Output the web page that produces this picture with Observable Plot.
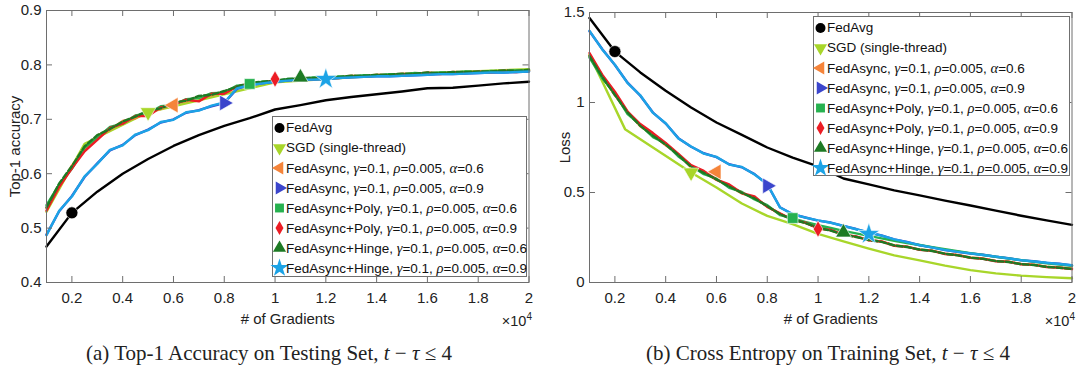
<!DOCTYPE html>
<html>
<head>
<meta charset="utf-8">
<script src="https://cdn.jsdelivr.net/npm/d3@7"></script>
<script src="https://cdn.jsdelivr.net/npm/@observablehq/plot@0.6"></script>
<style>
  body { margin: 0; background: #fff; }
  #wrap { position: relative; width: 1080px; height: 370px; overflow: hidden; font-family: "Liberation Sans", Arial, sans-serif; color: #222; }
  .panel { position: absolute; top: 0; }
  .legend { position: absolute; background: #fff; border: 1px solid #707070; box-sizing: border-box; font-size: 13.5px; color: #111; }
  .legend .row { position: absolute; left: 0; height: 20px; line-height: 20px; white-space: nowrap; }
  .legend svg { position: absolute; left: 0; top: 0; overflow: visible; }
  .legend .lbl { position: absolute; left: 13px; top: 0; }
  .g { font-family: "Liberation Serif", "DejaVu Serif", serif; font-style: italic; font-size: 14.5px; }
  .caption { position: absolute; font-family: "Liberation Serif", "Times New Roman", serif; font-size: 21px; color: #222; white-space: nowrap; transform: translateX(-50%); }
  .caption i { font-style: italic; }
  .exp { position: absolute; font-size: 14.5px; color: #222; white-space: nowrap; }
</style>
</head>
<body>
<div id="wrap"></div>
<script>
// ---------------- data ----------------
const grads = [1000,1500,2000,2500,3000,3500,4000,4500,5000,5500,6000,6500,7000,7500,8000,8500,9000,9500,10000,10500,11000,11500,12000,12500,13000,13500,14000,14500,15000,15500,16000,16500,17000,17500,18000,18500,19000,19500,20000];
const avgGrads = [1000,2000,3000,4000,5000,6000,7000,8000,9000,10000,11000,12000,13000,14000,15000,16000,17000,18000,19000,20000];
const sgdAccGrads = [1000,2500,5000,10000,15000,20000];
const sgdLossGrads = [1000,2400,5000,6000,7000,8000,9000,10000,11000,12000,13000,14000,15000,16000,17000,18000,19000,20000];
const markerGrads = [2000,5000,6000,8000,9000,10000,11000,12000];

const xTicks = [2000,4000,6000,8000,10000,12000,14000,16000,18000,20000];
const accTicks = [0.4,0.5,0.6,0.7,0.8,0.9];
const lossTicks = [0,0.5,1,1.5];

const seriesNames = ["FedAvg","SGD (single-thread)","FedAsync","FedAsync","FedAsync+Poly","FedAsync+Poly","FedAsync+Hinge","FedAsync+Hinge"];
const seriesAlpha = [null,null,0.6,0.9,0.6,0.9,0.6,0.9];
const seriesGamma = 0.1;
const seriesRho = 0.005;
const colors = ["#000000","#a8d62a","#f5843a","#3b45cc","#26b14f","#ec1c24","#1d7a24","#1ca3e6"];

// accuracy (left)
const accFedAvg = [0.466,0.528,0.567,0.600,0.627,0.651,0.671,0.688,0.702,0.718,0.726,0.735,0.741,0.746,0.751,0.757,0.758,0.762,0.766,0.769];
const accSGD = [0.530,0.655,0.713,0.768,0.783,0.792];
const accFA6 = [.536,.575,.615,.642,.670,.681,.697,.702,.715,.719,.730,.733,.742,.744,.751,.759,.766,.767,.772,.772,.776,.775,.778,.777,.780,.779,.782,.781,.784,.783,.786,.784,.787,.786,.788,.787,.790,.788,.790];
const accFA9 = [.488,.531,.559,.594,.619,.643,.653,.671,.681,.694,.700,.712,.717,.724,.730,.756,.763,.766,.769,.771,.773,.773,.774,.776,.777,.778,.779,.779,.780,.781,.782,.783,.783,.784,.785,.786,.786,.787,.788];
const accPoly6 = [.542,.580,.609,.648,.666,.686,.692,.707,.711,.724,.726,.737,.739,.748,.749,.762,.764,.769,.770,.774,.774,.777,.776,.779,.778,.781,.780,.783,.782,.785,.784,.786,.785,.788,.786,.789,.788,.790,.789];
const accPoly9 = [.532,.576,.610,.641,.662,.684,.692,.706,.706,.722,.727,.736,.733,.747,.747,.760,.766,.767,.772,.772,.775,.774,.777,.776,.779,.778,.781,.780,.783,.782,.785,.783,.786,.785,.787,.786,.788,.787,.789];
const accHinge6 = [.538,.582,.614,.650,.671,.682,.696,.705,.716,.720,.731,.734,.743,.745,.752,.760,.767,.769,.771,.774,.776,.776,.778,.778,.780,.780,.782,.782,.784,.784,.786,.785,.787,.787,.788,.788,.790,.789,.791];
const accHinge9 = [.487,.532,.558,.595,.618,.644,.652,.672,.680,.695,.699,.713,.716,.725,.731,.757,.763,.766,.769,.771,.773,.773,.774,.776,.777,.778,.779,.779,.780,.781,.782,.783,.783,.784,.785,.786,.786,.787,.788];
const accMarkers = [0.528,0.713,0.726,0.730,0.765,0.774,0.777,0.774];

// loss (right)
const lossFedAvg = [1.469,1.283,1.167,1.065,0.972,0.889,0.820,0.750,0.694,0.645,0.578,0.545,0.512,0.484,0.455,0.428,0.399,0.371,0.345,0.320];
const lossSGD = [1.265,0.852,0.611,0.528,0.439,0.370,0.324,0.270,0.228,0.188,0.151,0.123,0.094,0.069,0.051,0.038,0.030,0.024];
const lossFA6 = [1.262,1.150,1.040,0.948,0.868,0.820,0.762,0.712,0.640,0.612,0.570,0.536,0.495,0.470,0.422,0.382,0.349,0.331,0.303,0.290,0.266,0.255,0.236,0.228,0.206,0.199,0.183,0.177,0.160,0.153,0.139,0.133,0.120,0.116,0.103,0.099,0.088,0.084,0.078];
const lossFA9 = [1.396,1.297,1.208,1.110,1.038,0.944,0.883,0.802,0.754,0.718,0.696,0.657,0.640,0.602,0.545,0.418,0.379,0.361,0.344,0.333,0.314,0.297,0.277,0.261,0.239,0.225,0.207,0.195,0.180,0.171,0.161,0.154,0.143,0.135,0.123,0.118,0.109,0.104,0.095];
const lossPoly6 = [1.250,1.135,1.050,0.935,0.876,0.808,0.772,0.700,0.650,0.602,0.578,0.526,0.503,0.461,0.430,0.375,0.356,0.336,0.318,0.303,0.287,0.273,0.259,0.245,0.232,0.219,0.208,0.196,0.185,0.174,0.163,0.153,0.143,0.133,0.124,0.115,0.107,0.100,0.093];
const lossPoly9 = [1.275,1.155,1.060,0.950,0.880,0.830,0.775,0.715,0.652,0.620,0.572,0.545,0.497,0.478,0.420,0.384,0.348,0.333,0.301,0.292,0.264,0.256,0.234,0.228,0.204,0.199,0.181,0.176,0.158,0.152,0.137,0.132,0.118,0.115,0.101,0.098,0.086,0.082,0.074];
const lossHinge6 = [1.258,1.142,1.042,0.944,0.870,0.815,0.766,0.708,0.643,0.609,0.573,0.533,0.498,0.467,0.424,0.380,0.350,0.330,0.304,0.288,0.266,0.253,0.236,0.226,0.206,0.197,0.183,0.175,0.160,0.151,0.138,0.131,0.119,0.114,0.102,0.097,0.087,0.082,0.075];
const lossHinge9 = [1.398,1.295,1.210,1.108,1.040,0.942,0.885,0.800,0.756,0.716,0.698,0.655,0.642,0.600,0.547,0.417,0.380,0.360,0.345,0.332,0.315,0.296,0.278,0.260,0.240,0.224,0.208,0.194,0.181,0.170,0.162,0.153,0.144,0.134,0.124,0.117,0.110,0.103,0.096];
const lossMarkers = [1.283,0.611,0.615,0.537,0.358,0.297,0.278,0.269];

// ---------------- symbols ----------------
function rotated(type, deg) {
  const a = deg * Math.PI / 180, c = Math.cos(a), s = Math.sin(a);
  return {draw(ctx, size) {
    const p = {
      moveTo: (x, y) => ctx.moveTo(x * c - y * s, x * s + y * c),
      lineTo: (x, y) => ctx.lineTo(x * c - y * s, x * s + y * c),
      closePath: () => ctx.closePath()
    };
    type.draw(p, size);
  }};
}
const symbols = [d3.symbolCircle, rotated(d3.symbolTriangle, 180), rotated(d3.symbolTriangle, -90), rotated(d3.symbolTriangle, 90), d3.symbolSquare, d3.symbolDiamond, d3.symbolTriangle, d3.symbolStar];
const symbolR = [6.0, 5.8, 5.8, 5.8, 6.0, 5.0, 5.8, 6.8];

// ---------------- drawing ----------------
function table(xs, vs) { return xs.map((g, i) => ({g, v: vs[i]})); }

function panel(opts) {
  const {series, xsOf, markers, yDomain, yTicks, yLabel, mL, mR, mT, yLabelDx} = opts;
  const H = 340, bottomY = 282;
  const mB = H - bottomY;
  const fh = bottomY - mT, fw = 540 - mL - mR;
  const marks = [];
  series.forEach((vals, i) => {
    marks.push(Plot.line(table(xsOf[i], vals), {
      x: "g", y: "v", stroke: colors[i], strokeWidth: 2.4,
      strokeLinejoin: "round",
      strokeDasharray: i === 6 ? "6,2.5" : null
    }));
  });
  series.forEach((vals, i) => {
    marks.push(Plot.dot([{g: markerGrads[i], v: markers[i]}], {
      x: "g", y: "v", symbol: symbols[i], r: symbolR[i], fill: colors[i], stroke: "#fff", strokeWidth: 0.6
    }));
  });
  marks.push(
    Plot.frame({stroke: "#6e6e6e"}),
    Plot.tickX(xTicks, {x: d => d, stroke: "#6e6e6e", insetTop: fh - 6}),
    Plot.tickX(xTicks, {x: d => d, stroke: "#6e6e6e", insetBottom: fh - 6}),
    Plot.tickY(yTicks, {y: d => d, stroke: "#6e6e6e", insetRight: fw - 6}),
    Plot.tickY(yTicks, {y: d => d, stroke: "#6e6e6e", insetLeft: fw - 6}),
    Plot.axisX(xTicks, {tickSize: 0, tickPadding: 10, tickFormat: d => String(d / 10000), label: null}),
    Plot.axisY(yTicks, {tickSize: 0, tickPadding: 5, tickFormat: d => String(d), label: null}),
    Plot.text(["# of Gradients"], {text: d => d, frameAnchor: "bottom", textAnchor: "middle", lineAnchor: "middle", dy: 37, fontSize: 15}),
    Plot.text([yLabel], {text: d => d, frameAnchor: "left", textAnchor: "middle", lineAnchor: "middle", dx: yLabelDx, rotate: -90, fontSize: 15})
  );
  return Plot.plot({
    width: 540, height: H,
    marginLeft: mL, marginRight: mR, marginTop: mT, marginBottom: mB,
    x: {domain: [1000, 20000], label: null},
    y: {domain: yDomain, label: null},
    style: {fontFamily: "'Liberation Sans', Arial, sans-serif", fontSize: "15px", color: "#222", background: "transparent"},
    marks
  });
}

const wrap = document.getElementById("wrap");

const accSeries = [accFedAvg, accSGD, accFA6, accFA9, accPoly6, accPoly9, accHinge6, accHinge9];
const lossSeries = [lossFedAvg, lossSGD, lossFA6, lossFA9, lossPoly6, lossPoly9, lossHinge6, lossHinge9];

const pA = document.createElement("div"); pA.className = "panel"; pA.style.left = "0px";
pA.appendChild(panel({
  series: accSeries,
  xsOf: [avgGrads, sgdAccGrads, grads, grads, grads, grads, grads, grads],
  markers: accMarkers, yDomain: [0.4, 0.9], yTicks: accTicks, yLabel: "Top-1 accuracy",
  mL: 46, mR: 11.5, mT: 10, yLabelDx: -31
}));
wrap.appendChild(pA);

const pB = document.createElement("div"); pB.className = "panel"; pB.style.left = "540px";
pB.appendChild(panel({
  series: lossSeries,
  xsOf: [avgGrads, sgdLossGrads, grads, grads, grads, grads, grads, grads],
  markers: lossMarkers, yDomain: [0, 1.5], yTicks: lossTicks, yLabel: "Loss",
  mL: 49, mR: 8.5, mT: 12, yLabelDx: -24
}));
wrap.appendChild(pB);

// legends
function legend(left, top, width, height) {
  const box = document.createElement("div");
  box.className = "legend";
  Object.assign(box.style, {left: left + "px", top: top + "px", width: width + "px", height: height + "px"});
  seriesNames.forEach((name, i) => {
    const row = document.createElement("div");
    row.className = "row";
    row.style.top = (i * 20 + 0.5) + "px";
    row.style.width = width + "px";
    const path = d3.symbol(symbols[i], Math.PI * symbolR[i] * symbolR[i] * 0.7)();
    let txt = name;
    if (seriesAlpha[i] !== null) {
      txt += `, <span class="g">γ</span>=${seriesGamma}, <span class="g">ρ</span>=${seriesRho}, <span class="g">α</span>=${seriesAlpha[i]}`;
    }
    row.innerHTML = `<svg width="14" height="20"><path transform="translate(6.5,10)" d="${path}" fill="${colors[i]}"/></svg><span class="lbl">${txt}</span>`;
    box.appendChild(row);
  });
  wrap.appendChild(box);
}
legend(272, 116, 255, 161);
legend(813, 16, 257, 160);

// exponent labels
function exp(rightX) {
  const e = document.createElement("div");
  e.className = "exp";
  e.innerHTML = "×10<sup style='font-size:10px'>4</sup>";
  e.style.right = (1080 - rightX) + "px";
  e.style.top = "311px";
  wrap.appendChild(e);
}
exp(532); exp(1075);

// captions
function caption(cx, letter, text) {
  const c = document.createElement("div");
  c.className = "caption";
  c.style.left = cx + "px";
  c.style.top = "341px";
  c.innerHTML = `(${letter}) ${text}, <i>t</i> − <i>τ</i> ≤ 4`;
  wrap.appendChild(c);
}
caption(269, "a", "Top-1 Accuracy on Testing Set");
caption(828, "b", "Cross Entropy on Training Set");
</script>
</body>
</html>
